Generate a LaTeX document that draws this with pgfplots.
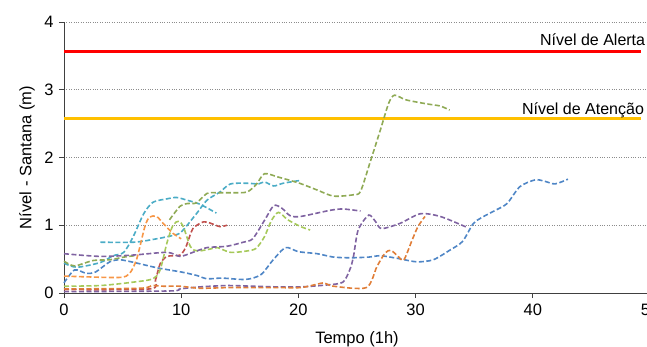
\documentclass[border=0pt]{standalone}
\usepackage{pgfplots}
\pgfplotsset{compat=1.18}
\usepackage{fontspec}
\setmainfont{Liberation Sans}

\newcommand\chartfont{\fontsize{16.5bp}{19bp}\selectfont}
\newcommand\levelfont{\fontsize{16bp}{19bp}\selectfont}

% series colours
\definecolor{sBlue}{HTML}{4F86C6}
\definecolor{sRed}{HTML}{C0504D}
\definecolor{sOlive}{HTML}{8FAA55}
\definecolor{sLime}{HTML}{A6C95A}
\definecolor{sPurple}{HTML}{7F63A1}
\definecolor{sCyan}{HTML}{4BACC6}
\definecolor{sOrange}{HTML}{F79646}
\definecolor{sOrangeDk}{HTML}{E07E38}
\definecolor{alerta}{HTML}{FF0000}
\definecolor{atencao}{HTML}{FFC000}

\begin{document}
\begin{tikzpicture}
\useasboundingbox (-64bp,-54bp) rectangle (583bp,293bp);
\clip (-64bp,-54bp) rectangle (583bp,293bp);
\begin{axis}[
  width=586bp, height=271bp, scale only axis,
  xmin=0, xmax=50, ymin=0, ymax=4,
  xtick={0,10,20,30,40,50},
  ytick={0,1,2,3,4},
  axis x line*=bottom, axis y line*=left,
  axis line style={draw=black!75, line width=0.9bp},
  tick align=outside,
  major tick length=5bp,
  tick style={draw=black!75, line width=0.9bp},
  ymajorgrids,
  grid style={draw=black!45, dotted, line width=0.5bp},
  /pgf/number format/assume math mode=true,
  tick label style={font=\chartfont},
  yticklabel style={xshift=-2bp},
  xticklabel style={yshift=-2bp},
  every axis y label/.style={at={(axis description cs:-0.0631,0.5)}, rotate=90, anchor=center, font=\chartfont},
  every axis x label/.style={at={(axis description cs:0.5,0)}, anchor=center, yshift=-46bp, font=\chartfont},
  xlabel={Tempo (1h)},
  ylabel={Nível - Santana (m)},
  clip=false,
  every axis plot/.append style={line width=1.6bp, dash pattern=on 5bp off 2.5bp, smooth, tension=0.45, no markers},
]

% reference levels
\addplot[alerta, line width=3bp, solid, sharp plot] coordinates {(0,3.57) (49.2,3.57)};
\addplot[atencao, line width=3bp, solid, sharp plot] coordinates {(0,2.57) (49.2,2.57)};
\node[anchor=base east, font=\levelfont, inner sep=0pt] at (axis cs:49.6,3.66) {Nível de Alerta};
\node[anchor=base east, font=\levelfont, inner sep=0pt] at (axis cs:49.5,2.64) {Nível de Atenção};

% events
\addplot[sBlue] coordinates {
 (0,0.15) (0.9,0.34) (1.9,0.29) (2.7,0.31) (3.9,0.46) (4.8,0.49) (6.0,0.45)
 (8.0,0.37) (10.0,0.31) (11.3,0.26) (12.2,0.21) (13.5,0.22) (15.5,0.20)
 (16.8,0.27) (17.8,0.48) (18.9,0.67) (20.0,0.61) (21.6,0.58) (23.0,0.53)
 (24.5,0.52) (26.0,0.53) (27.0,0.55) (28.5,0.51) (30.1,0.46) (31.5,0.49)
 (32.9,0.63) (34.0,0.76) (34.9,1.02) (35.6,1.11) (36.8,1.22) (37.8,1.32)
 (38.9,1.57) (40.2,1.67) (41.0,1.65) (41.9,1.61) (43.0,1.68)};

\addplot[sCyan] coordinates {
 (3.1,0.75) (6.0,0.75) (7.9,0.80) (9.3,0.85) (10.0,0.90) (11.3,1.17)
 (12.2,1.37) (13.3,1.49) (14.2,1.61) (15.6,1.62) (16.6,1.61) (17.1,1.64)
 (17.9,1.58) (18.7,1.62) (20.1,1.66)};

\addplot[sCyan] coordinates {
 (0,0.44) (1.1,0.38) (3.1,0.45) (4.2,0.55) (5.1,0.60) (5.9,0.83) (6.8,1.17)
 (7.6,1.34) (8.8,1.39) (9.6,1.41) (10.5,1.37) (11.6,1.31) (13.0,1.18)};

\addplot[sOrange] coordinates {
 (0,0.25) (1.6,0.24) (4.8,0.23) (5.6,0.29) (6.2,0.50) (6.9,0.98) (7.3,1.12)
 (7.9,1.13) (8.5,1.02) (9.3,0.88) (10.0,0.80)};

\addplot[sRed] coordinates {
 (0,0.05) (7.3,0.06) (7.8,0.19) (8.2,0.43) (8.8,0.54) (9.9,0.56) (10.4,0.68)
 (11.0,0.95) (11.9,1.05) (12.5,1.03) (13.3,0.98) (13.9,1.00)};

\addplot[sLime] coordinates {
 (0,0.10) (3.1,0.11) (5.9,0.16) (7.6,0.21) (8.2,0.34) (8.8,0.75) (9.3,1.00)
 (9.8,1.06) (10.2,0.97) (10.8,0.68) (11.4,0.62) (12.5,0.65) (13.1,0.67)
 (14.2,0.60) (15.6,0.62) (16.4,0.66) (17.1,0.83) (17.7,1.07) (18.3,1.19)
 (19.1,1.08) (20.2,0.98) (21.0,0.93)};

\addplot[sOlive] coordinates {
 (9.0,1.08) (9.9,1.28) (10.5,1.32) (11.3,1.33) (12.2,1.47) (13.0,1.48)
 (14.4,1.48) (15.6,1.49) (16.4,1.60) (17.1,1.76) (18.3,1.71) (20.1,1.62)
 (21.6,1.52) (23.0,1.43) (24.7,1.45) (25.3,1.50) (26.1,1.92) (27.0,2.41)
 (27.7,2.80) (28.2,2.92) (29.2,2.85) (31.0,2.79) (32.1,2.76) (32.9,2.70)};

\addplot[sOlive] coordinates {
 (0,0.47) (0.9,0.40) (2.5,0.48) (3.9,0.49) (5.1,0.53) (6.0,0.55)};

\addplot[sPurple] coordinates {
 (0,0.58) (3.1,0.54) (5.9,0.56) (8.8,0.60) (9.9,0.54) (11.0,0.60) (12.2,0.67)
 (13.9,0.69) (15.3,0.75) (16.1,0.80) (17.1,1.07) (17.9,1.29) (18.6,1.25)
 (19.3,1.14) (20.2,1.13) (22.7,1.22) (23.8,1.24) (25.3,1.21)};

\addplot[sPurple] coordinates {
 (0,0.02) (9.0,0.03) (9.9,0.06) (11.6,0.09) (13.9,0.11) (16.1,0.10)
 (18.3,0.09) (20.2,0.09) (22.5,0.12) (23.8,0.16) (24.4,0.35) (24.7,0.54)
 (25.1,0.93) (26.0,1.15) (26.6,1.05) (27.1,0.95) (28.7,1.03) (30.4,1.17)
 (32.1,1.13) (34.1,0.99) (34.4,0.97)};

\addplot[sOrangeDk] coordinates {
 (0,0.06) (6.5,0.07) (7.5,0.11) (8.5,0.10) (9.9,0.10) (11.6,0.07) (14,0.08)
 (16,0.08) (18,0.08) (20.2,0.08) (21.6,0.13) (22.2,0.15) (23.0,0.10)
 (25.8,0.08) (26.7,0.39) (27.4,0.59) (27.9,0.63) (28.5,0.54) (29.0,0.49)
 (29.7,0.78) (30.2,0.98) (30.8,1.13)};

\end{axis}
\end{tikzpicture}
\end{document}
